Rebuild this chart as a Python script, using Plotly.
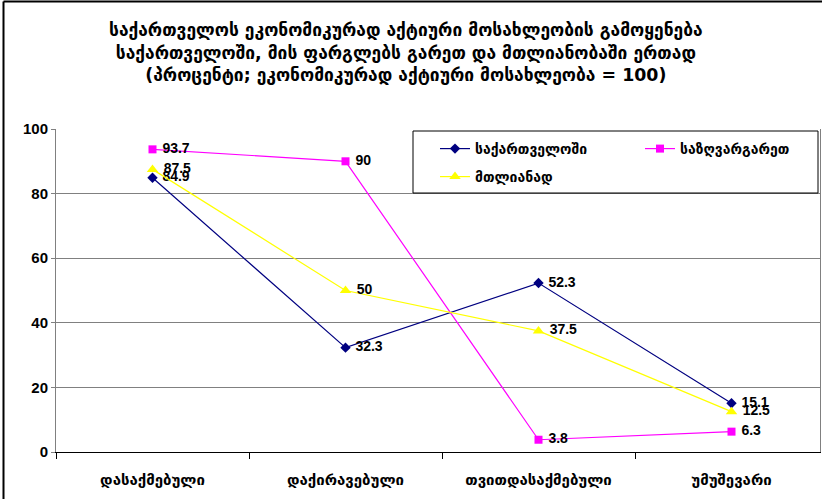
import plotly.graph_objects as go

categories = ["დასაქმებული", "დაქირავებული", "თვითდასაქმებული", "უმუშევარი"]
series_names = ["საქართველოში", "საზღვარგარეთ", "მთლიანად"]
georgia = [84.9, 32.3, 52.3, 15.1]
abroad = [93.7, 90, 3.8, 6.3]
total = [87.5, 50, 37.5, 12.5]
y_ticks = [0, 20, 40, 60, 80, 100]

title_lines = [
    "საქართველოს ეკონომიკურად აქტიური მოსახლეობის გამოყენება",
    "საქართველოში, მის ფარგლებს გარეთ და მთლიანობაში ერთად",
    "(პროცენტი; ეკონომიკურად აქტიური მოსახლეობა = 100)",
]

GEO = "DejaVu Sans, sans-serif"
NUM = "Liberation Sans, Arial, sans-serif"

styles = [
    dict(color="#000080", symbol="diamond", size=8),
    dict(color="#FF00FF", symbol="square", size=8),
    dict(color="#FFFF00", symbol="triangle-up", size=10),
]
legend_ids = ["legend", "legend2", "legend3"]

fig = go.Figure()
for name, vals, st, lg in zip(series_names, [georgia, abroad, total], styles, legend_ids):
    fig.add_trace(go.Scatter(
        x=categories, y=vals, name=name, legend=lg,
        mode="lines+markers+text",
        text=[f" {v:g}" for v in vals],
        textposition="middle right",
        textfont=dict(family=NUM, size=14, color="#000000", weight="bold"),
        line=dict(color=st["color"], width=1.2),
        marker=dict(color=st["color"], symbol=st["symbol"], size=st["size"]),
        cliponaxis=False,
    ))

W, H = 822, 499
L, R, T, B = 56, 2, 129, 47
pw = W - L - R
ph = H - T - B

def px_x(x):
    return (x - L) / pw

def px_y(y):
    return (H - B - y) / ph

annotations = [dict(
    text="<br>".join(f"<b>{t}</b>" for t in title_lines),
    font=dict(family=GEO, size=17.4, color="#000000"),
    x=px_x(406), y=px_y(53), xref="paper", yref="paper",
    xanchor="center", yanchor="middle", showarrow=False, align="center",
)]

shapes = [
    # legend box
    dict(type="rect", xref="paper", yref="paper",
         x0=px_x(413), x1=px_x(818), y0=px_y(193), y1=px_y(131),
         line=dict(color="#000000", width=1), fillcolor="white", layer="above"),
    # outer chart frame (top and left edges visible)
    dict(type="line", xref="paper", yref="paper",
         x0=px_x(3.5), x1=px_x(840), y0=px_y(1.5), y1=px_y(1.5),
         line=dict(color="#000000", width=2)),
    dict(type="line", xref="paper", yref="paper",
         x0=px_x(3.5), x1=px_x(3.5), y0=px_y(1.5), y1=px_y(520),
         line=dict(color="#000000", width=2)),
]

legend_pos = [(435, 133), (640, 133), (435, 161)]

def legend_style(xp, yp):
    return dict(
        orientation="v",
        x=px_x(xp), y=px_y(yp), xanchor="left", yanchor="top",
        xref="paper", yref="paper",
        bgcolor="rgba(0,0,0,0)", borderwidth=0,
        font=dict(family=GEO, size=14, color="#000000", weight="bold"),
        itemwidth=30,
    )

fig.update_layout(
    width=W, height=H,
    margin=dict(l=L, r=R, t=T, b=B),
    paper_bgcolor="white", plot_bgcolor="white",
    showlegend=True,
    legend=legend_style(*legend_pos[0]),
    legend2=legend_style(*legend_pos[1]),
    legend3=legend_style(*legend_pos[2]),
    xaxis=dict(
        type="category",
        range=[-0.5, -0.5 + pw / 193],
        tickson="boundaries",
        ticks="outside", ticklen=6, tickcolor="#000000",
        showline=True, linecolor="#000000", linewidth=1,
        showgrid=False,
        tickfont=dict(family=GEO, size=15, color="#000000", weight="bold"),
        ticklabelstandoff=14,
    ),
    yaxis=dict(
        range=[0, 100],
        tickvals=y_ticks,
        ticks="outside", ticklen=4, tickcolor="#808080",
        showline=True, linecolor="#808080", linewidth=1, mirror=True,
        showgrid=True, gridcolor="#808080", gridwidth=1,
        zeroline=False,
        tickfont=dict(family=NUM, size=15, color="#000000", weight="bold"),
    ),
    annotations=annotations,
    shapes=shapes,
)

fig.write_html(
    "out.html",
    config={"displayModeBar": False},
    post_script="document.body.style.margin='0';document.body.style.overflow='hidden';",
)
